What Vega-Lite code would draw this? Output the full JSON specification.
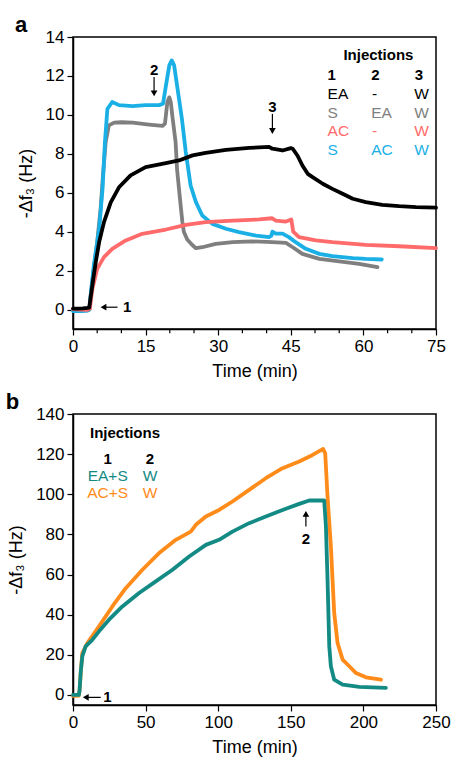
{
  "$schema": "https://vega.github.io/schema/vega-lite/v6.json",
  "padding": {"left": 4, "top": 13, "right": 6, "bottom": 2},
  "spacing": 9,
  "resolve": {"scale": {"color": "independent"}},
  "config": {
    "font": "Liberation Sans",
    "view": {"stroke": "#000", "strokeWidth": 1.5},
    "axis": {
      "labelFont": "Liberation Sans", "labelFontSize": 17, "labelColor": "#000",
      "titleFont": "Liberation Sans", "titleFontSize": 18, "titleFontWeight": "normal", "titleColor": "#000",
      "domainColor": "#000", "domainWidth": 1.5, "tickColor": "#000", "tickWidth": 1.2,
      "grid": false, "labelPadding": 3, "labelFlush": false, "labelOverlap": false
    },
    "title": {"font": "Liberation Sans", "fontSize": 22, "fontWeight": "bold", "anchor": "start", "frame": "bounds", "color": "#000"}
  },
  "datasets": {
    "a": [
      {"t":0,"f":-0.05,"s":"S / EA / W"},{"t":1,"f":-0.05,"s":"S / EA / W"},{"t":2,"f":-0.05,"s":"S / EA / W"},{"t":3,"f":-0.04,"s":"S / EA / W"},{"t":3.4,"f":0,"s":"S / EA / W"},{"t":3.65,"f":0.72,"s":"S / EA / W"},{"t":4.3,"f":2.09,"s":"S / EA / W"},{"t":5.0,"f":3.46,"s":"S / EA / W"},{"t":5.7,"f":5.17,"s":"S / EA / W"},{"t":6.2,"f":6.9,"s":"S / EA / W"},{"t":6.75,"f":8.6,"s":"S / EA / W"},{"t":7.4,"f":9.46,"s":"S / EA / W"},{"t":8.5,"f":9.6,"s":"S / EA / W"},{"t":10,"f":9.62,"s":"S / EA / W"},{"t":12.3,"f":9.6,"s":"S / EA / W"},{"t":15.7,"f":9.5,"s":"S / EA / W"},{"t":18.5,"f":9.43,"s":"S / EA / W"},{"t":19.0,"f":9.55,"s":"S / EA / W"},{"t":19.5,"f":10.66,"s":"S / EA / W"},{"t":19.9,"f":10.9,"s":"S / EA / W"},{"t":20.2,"f":10.66,"s":"S / EA / W"},{"t":20.5,"f":10.0,"s":"S / EA / W"},{"t":21.2,"f":8.6,"s":"S / EA / W"},{"t":21.5,"f":7.2,"s":"S / EA / W"},{"t":21.9,"f":6.2,"s":"S / EA / W"},{"t":22.3,"f":5.2,"s":"S / EA / W"},{"t":22.6,"f":4.5,"s":"S / EA / W"},{"t":22.9,"f":4.0,"s":"S / EA / W"},{"t":23.6,"f":3.6,"s":"S / EA / W"},{"t":24.7,"f":3.3,"s":"S / EA / W"},{"t":25.4,"f":3.15,"s":"S / EA / W"},{"t":26.7,"f":3.2,"s":"S / EA / W"},{"t":29.5,"f":3.37,"s":"S / EA / W"},{"t":33.0,"f":3.46,"s":"S / EA / W"},{"t":37.1,"f":3.5,"s":"S / EA / W"},{"t":41.2,"f":3.46,"s":"S / EA / W"},{"t":44.0,"f":3.42,"s":"S / EA / W"},{"t":45.4,"f":3.2,"s":"S / EA / W"},{"t":47.4,"f":2.86,"s":"S / EA / W"},{"t":50.9,"f":2.6,"s":"S / EA / W"},{"t":55.0,"f":2.47,"s":"S / EA / W"},{"t":59.1,"f":2.35,"s":"S / EA / W"},{"t":62.9,"f":2.18,"s":"S / EA / W"},
      {"t":0,"f":-0.08,"s":"S / AC / W"},{"t":1.5,"f":-0.08,"s":"S / AC / W"},{"t":3,"f":-0.06,"s":"S / AC / W"},{"t":3.4,"f":0,"s":"S / AC / W"},{"t":3.65,"f":0.72,"s":"S / AC / W"},{"t":4.3,"f":2.26,"s":"S / AC / W"},{"t":5.4,"f":4.15,"s":"S / AC / W"},{"t":6.1,"f":6.2,"s":"S / AC / W"},{"t":6.6,"f":8.6,"s":"S / AC / W"},{"t":7.1,"f":10.3,"s":"S / AC / W"},{"t":8.1,"f":10.66,"s":"S / AC / W"},{"t":9.5,"f":10.5,"s":"S / AC / W"},{"t":12.3,"f":10.45,"s":"S / AC / W"},{"t":15,"f":10.5,"s":"S / AC / W"},{"t":17.8,"f":10.5,"s":"S / AC / W"},{"t":18.6,"f":10.57,"s":"S / AC / W"},{"t":19.2,"f":11.5,"s":"S / AC / W"},{"t":19.9,"f":12.54,"s":"S / AC / W"},{"t":20.4,"f":12.8,"s":"S / AC / W"},{"t":20.9,"f":12.54,"s":"S / AC / W"},{"t":21.6,"f":11.34,"s":"S / AC / W"},{"t":22.5,"f":9.8,"s":"S / AC / W"},{"t":23.3,"f":8.09,"s":"S / AC / W"},{"t":24.3,"f":6.37,"s":"S / AC / W"},{"t":25.4,"f":5.52,"s":"S / AC / W"},{"t":26.7,"f":4.83,"s":"S / AC / W"},{"t":28.8,"f":4.4,"s":"S / AC / W"},{"t":31.6,"f":4.15,"s":"S / AC / W"},{"t":34.3,"f":3.98,"s":"S / AC / W"},{"t":37.8,"f":3.8,"s":"S / AC / W"},{"t":40.5,"f":3.72,"s":"S / AC / W"},{"t":41.0,"f":3.8,"s":"S / AC / W"},{"t":41.2,"f":4.0,"s":"S / AC / W"},{"t":41.9,"f":3.9,"s":"S / AC / W"},{"t":43.3,"f":3.9,"s":"S / AC / W"},{"t":44.6,"f":3.72,"s":"S / AC / W"},{"t":46.0,"f":3.46,"s":"S / AC / W"},{"t":48.1,"f":3.12,"s":"S / AC / W"},{"t":50.9,"f":2.86,"s":"S / AC / W"},{"t":53.6,"f":2.74,"s":"S / AC / W"},{"t":57.8,"f":2.64,"s":"S / AC / W"},{"t":60.5,"f":2.6,"s":"S / AC / W"},{"t":63.8,"f":2.57,"s":"S / AC / W"},
      {"t":0,"f":0.02,"s":"AC / - / W"},{"t":1.5,"f":0,"s":"AC / - / W"},{"t":3,"f":-0.02,"s":"AC / - / W"},{"t":3.5,"f":0.05,"s":"AC / - / W"},{"t":3.65,"f":0.38,"s":"AC / - / W"},{"t":4.0,"f":1.06,"s":"AC / - / W"},{"t":5.0,"f":2.09,"s":"AC / - / W"},{"t":6.4,"f":2.69,"s":"AC / - / W"},{"t":8.1,"f":3.12,"s":"AC / - / W"},{"t":10.9,"f":3.55,"s":"AC / - / W"},{"t":14.3,"f":3.89,"s":"AC / - / W"},{"t":19.2,"f":4.11,"s":"AC / - / W"},{"t":23.3,"f":4.35,"s":"AC / - / W"},{"t":27.4,"f":4.49,"s":"AC / - / W"},{"t":33.0,"f":4.57,"s":"AC / - / W"},{"t":38.5,"f":4.63,"s":"AC / - / W"},{"t":41.1,"f":4.69,"s":"AC / - / W"},{"t":41.9,"f":4.57,"s":"AC / - / W"},{"t":44.0,"f":4.52,"s":"AC / - / W"},{"t":45.1,"f":4.63,"s":"AC / - / W"},{"t":45.5,"f":4.0,"s":"AC / - / W"},{"t":46.7,"f":3.72,"s":"AC / - / W"},{"t":50.2,"f":3.55,"s":"AC / - / W"},{"t":53.6,"f":3.46,"s":"AC / - / W"},{"t":60.5,"f":3.32,"s":"AC / - / W"},{"t":67.4,"f":3.25,"s":"AC / - / W"},{"t":75,"f":3.15,"s":"AC / - / W"},
      {"t":0,"f":0.05,"s":"EA / - / W"},{"t":1,"f":0.05,"s":"EA / - / W"},{"t":2,"f":0.06,"s":"EA / - / W"},{"t":3,"f":0.08,"s":"EA / - / W"},{"t":3.35,"f":0.1,"s":"EA / - / W"},{"t":3.65,"f":0.63,"s":"EA / - / W"},{"t":4.2,"f":1.6,"s":"EA / - / W"},{"t":4.7,"f":2.43,"s":"EA / - / W"},{"t":5.4,"f":3.46,"s":"EA / - / W"},{"t":6.4,"f":4.49,"s":"EA / - / W"},{"t":7.8,"f":5.5,"s":"EA / - / W"},{"t":9.5,"f":6.28,"s":"EA / - / W"},{"t":11.9,"f":6.89,"s":"EA / - / W"},{"t":15.0,"f":7.32,"s":"EA / - / W"},{"t":19.2,"f":7.52,"s":"EA / - / W"},{"t":21.9,"f":7.66,"s":"EA / - / W"},{"t":24.7,"f":7.92,"s":"EA / - / W"},{"t":27.4,"f":8.05,"s":"EA / - / W"},{"t":31.6,"f":8.2,"s":"EA / - / W"},{"t":36.4,"f":8.3,"s":"EA / - / W"},{"t":40.5,"f":8.36,"s":"EA / - / W"},{"t":41.2,"f":8.26,"s":"EA / - / W"},{"t":43.3,"f":8.17,"s":"EA / - / W"},{"t":45.0,"f":8.29,"s":"EA / - / W"},{"t":45.4,"f":8.26,"s":"EA / - / W"},{"t":46.4,"f":7.9,"s":"EA / - / W"},{"t":47.4,"f":7.4,"s":"EA / - / W"},{"t":48.5,"f":6.97,"s":"EA / - / W"},{"t":49.5,"f":6.8,"s":"EA / - / W"},{"t":51.6,"f":6.46,"s":"EA / - / W"},{"t":53.6,"f":6.2,"s":"EA / - / W"},{"t":55.7,"f":5.95,"s":"EA / - / W"},{"t":57.8,"f":5.69,"s":"EA / - / W"},{"t":60.5,"f":5.52,"s":"EA / - / W"},{"t":63.9,"f":5.38,"s":"EA / - / W"},{"t":67.4,"f":5.31,"s":"EA / - / W"},{"t":70.9,"f":5.26,"s":"EA / - / W"},{"t":75,"f":5.23,"s":"EA / - / W"}
    ],
    "aMinor": [{"t":5},{"t":10},{"t":20},{"t":25},{"t":35},{"t":40},{"t":50},{"t":55},{"t":65},{"t":70}],
    "aTitle": [{"x":63.1,"y":13.06,"label":"Injections"}],
    "aHead": [
      {"x":52.6,"y":12.03,"label":"1"},{"x":61.6,"y":12.03,"label":"2"},{"x":70.6,"y":12.03,"label":"3"}
    ],
    "aLeg": [
      {"x":52.6,"y":11.09,"label":"EA","s":"EA / - / W"},{"x":61.8,"y":11.09,"label":"-","s":"EA / - / W"},{"x":70.5,"y":11.09,"label":"W","s":"EA / - / W"},
      {"x":52.6,"y":10.11,"label":"S","s":"S / EA / W"},{"x":61.6,"y":10.11,"label":"EA","s":"S / EA / W"},{"x":70.5,"y":10.11,"label":"W","s":"S / EA / W"},
      {"x":52.6,"y":9.15,"label":"AC","s":"AC / - / W"},{"x":61.8,"y":9.15,"label":"-","s":"AC / - / W"},{"x":70.5,"y":9.15,"label":"W","s":"AC / - / W"},
      {"x":52.6,"y":8.17,"label":"S","s":"S / AC / W"},{"x":61.6,"y":8.17,"label":"AC","s":"S / AC / W"},{"x":70.5,"y":8.17,"label":"W","s":"S / AC / W"}
    ],
    "aRule": [
      {"x":9.2,"y":0.12,"x2":6.2,"y2":0.12},
      {"x":16.75,"y":11.95,"x2":16.75,"y2":11.1},
      {"x":41.2,"y":10.05,"x2":41.2,"y2":9.1}
    ],
    "aHeadL": [{"x":6.3,"y":0.12}],
    "aHeadD": [{"x":16.75,"y":11.1},{"x":41.2,"y":9.17}],
    "aNum": [{"x":11.2,"y":0.12,"label":"1"},{"x":16.75,"y":12.3,"label":"2"},{"x":41.2,"y":10.4,"label":"3"}],
    "b": [
      {"t":0,"f":-0.5,"s":"AC+S"},{"t":2,"f":-0.5,"s":"AC+S"},{"t":4,"f":-0.3,"s":"AC+S"},{"t":4.6,"f":3,"s":"AC+S"},{"t":5.3,"f":11,"s":"AC+S"},{"t":6.4,"f":20.9,"s":"AC+S"},{"t":9.9,"f":25.9,"s":"AC+S"},{"t":17.9,"f":34.2,"s":"AC+S"},{"t":27.1,"f":44.1,"s":"AC+S"},{"t":36.3,"f":53.2,"s":"AC+S"},{"t":47.8,"f":62.4,"s":"AC+S"},{"t":59.3,"f":70.7,"s":"AC+S"},{"t":70.8,"f":77.3,"s":"AC+S"},{"t":81.1,"f":81.4,"s":"AC+S"},{"t":84.6,"f":84.8,"s":"AC+S"},{"t":91.5,"f":88.9,"s":"AC+S"},{"t":100.6,"f":92.2,"s":"AC+S"},{"t":109.8,"f":96.4,"s":"AC+S"},{"t":121.3,"f":102.2,"s":"AC+S"},{"t":132.8,"f":108.0,"s":"AC+S"},{"t":144.3,"f":113.0,"s":"AC+S"},{"t":155.8,"f":116.3,"s":"AC+S"},{"t":165.0,"f":119.6,"s":"AC+S"},{"t":172.3,"f":122.6,"s":"AC+S"},{"t":173.7,"f":120.4,"s":"AC+S"},{"t":175.3,"f":98.9,"s":"AC+S"},{"t":177.6,"f":74.0,"s":"AC+S"},{"t":179.9,"f":40.8,"s":"AC+S"},{"t":182.2,"f":25.9,"s":"AC+S"},{"t":185.7,"f":17.6,"s":"AC+S"},{"t":190.3,"f":14.3,"s":"AC+S"},{"t":194.9,"f":10.9,"s":"AC+S"},{"t":201.7,"f":8.8,"s":"AC+S"},{"t":212.1,"f":7.6,"s":"AC+S"},
      {"t":0,"f":0,"s":"EA+S"},{"t":2,"f":0,"s":"EA+S"},{"t":4,"f":0,"s":"EA+S"},{"t":4.5,"f":2,"s":"EA+S"},{"t":5.3,"f":11,"s":"EA+S"},{"t":6.4,"f":19.2,"s":"EA+S"},{"t":8.7,"f":24.2,"s":"EA+S"},{"t":13.3,"f":27.5,"s":"EA+S"},{"t":17.9,"f":31.7,"s":"EA+S"},{"t":24.8,"f":37.5,"s":"EA+S"},{"t":34.0,"f":44.1,"s":"EA+S"},{"t":45.5,"f":50.8,"s":"EA+S"},{"t":57.0,"f":56.6,"s":"EA+S"},{"t":68.5,"f":62.4,"s":"EA+S"},{"t":80.0,"f":69.0,"s":"EA+S"},{"t":91.5,"f":74.8,"s":"EA+S"},{"t":100.6,"f":77.3,"s":"EA+S"},{"t":109.8,"f":81.4,"s":"EA+S"},{"t":121.3,"f":85.6,"s":"EA+S"},{"t":132.8,"f":88.9,"s":"EA+S"},{"t":144.3,"f":92.2,"s":"EA+S"},{"t":155.8,"f":95.2,"s":"EA+S"},{"t":162.7,"f":96.9,"s":"EA+S"},{"t":173.0,"f":96.9,"s":"EA+S"},{"t":174.2,"f":83.9,"s":"EA+S"},{"t":175.3,"f":57.4,"s":"EA+S"},{"t":176.5,"f":24.2,"s":"EA+S"},{"t":177.6,"f":14.3,"s":"EA+S"},{"t":179.9,"f":7.6,"s":"EA+S"},{"t":185.7,"f":5.1,"s":"EA+S"},{"t":197.2,"f":4.0,"s":"EA+S"},{"t":215.5,"f":3.5,"s":"EA+S"}
    ],
    "bHead": [
      {"x":35.8,"y":130.4,"label":"Injections"},
      {"x":23.9,"y":117.4,"label":"1"},{"x":53.0,"y":117.4,"label":"2"}
    ],
    "bLeg": [
      {"x":23.9,"y":109.1,"label":"EA+S","s":"EA+S"},{"x":53.0,"y":109.1,"label":"W","s":"EA+S"},
      {"x":23.9,"y":100.5,"label":"AC+S","s":"AC+S"},{"x":53.0,"y":100.5,"label":"W","s":"AC+S"}
    ],
    "bRule": [
      {"x":19.1,"y":-1.2,"x2":8.5,"y2":-1.2},
      {"x":160.4,"y":83.9,"x2":160.4,"y2":90.0}
    ],
    "bHeadL": [{"x":8.8,"y":-1.2}],
    "bHeadU": [{"x":160.4,"y":90.2}],
    "bNum": [{"x":23.7,"y":-1.2,"label":"1"},{"x":160.4,"y":77.6,"label":"2"}]
  },
  "vconcat": [
    {
      "width": 363, "height": 292,
      "title": {"text": "a", "dx": -2, "dy": 9, "offset": 0},
      "encoding": {
        "x": {"type": "quantitative", "scale": {"domain": [0, 75], "nice": false, "zero": false}},
        "y": {"type": "quantitative", "scale": {"domain": [-1, 14], "nice": false, "zero": false}}
      },
      "layer": [
        {
          "data": {"name": "a"},
          "mark": {"type": "line", "strokeWidth": 3.8, "strokeJoin": "round", "strokeCap": "round"},
          "encoding": {
            "x": {"field": "t", "type": "quantitative", "title": "Time (min)",
              "axis": {"values": [0,15,30,45,60,75], "tickSize": 6, "titlePadding": 8}},
            "y": {"field": "f", "type": "quantitative", "title": "-Δf₃ (Hz)",
              "axis": {"values": [0,1,2,3,4,5,6,7,8,9,10,11,12,13,14],
                "labelExpr": "datum.value % 2 === 0 ? datum.label : ''",
                "tickSize": {"condition": {"test": "datum.value % 2 === 0", "value": 6}, "value": 3.5},
                "titlePadding": 10}},
            "color": {"field": "s", "type": "nominal", "legend": null,
              "scale": {"domain": ["EA / - / W", "S / EA / W", "AC / - / W", "S / AC / W"],
                "range": ["#000000", "#7f7f7f", "#ff6b6b", "#1ab0e6"]}},
            "order": {"field": "t", "type": "quantitative"}
          }
        },
        {
          "data": {"name": "aMinor"},
          "mark": {"type": "tick", "orient": "vertical", "size": 3.5, "thickness": 1.2, "color": "#000", "opacity": 1, "yOffset": 2.5},
          "encoding": {"x": {"field": "t", "type": "quantitative"}, "y": {"datum": -1, "type": "quantitative"}}
        },
        {
          "data": {"name": "aTitle"},
          "mark": {"type": "text", "fontWeight": "bold", "fontSize": 15, "align": "center", "baseline": "middle", "color": "#000"},
          "encoding": {"x": {"field": "x", "type": "quantitative"}, "y": {"field": "y", "type": "quantitative"}, "text": {"field": "label"}}
        },
        {
          "data": {"name": "aHead"},
          "mark": {"type": "text", "fontWeight": "bold", "fontSize": 15, "align": "left", "baseline": "middle", "color": "#000"},
          "encoding": {"x": {"field": "x", "type": "quantitative"}, "y": {"field": "y", "type": "quantitative"}, "text": {"field": "label"}}
        },
        {
          "data": {"name": "aLeg"},
          "mark": {"type": "text", "fontSize": 15.5, "align": "left", "baseline": "middle"},
          "encoding": {
            "x": {"field": "x", "type": "quantitative"},
            "y": {"field": "y", "type": "quantitative"},
            "text": {"field": "label"},
            "color": {"field": "s", "type": "nominal", "legend": null}
          }
        },
        {
          "data": {"name": "aRule"},
          "mark": {"type": "rule", "color": "#000", "strokeWidth": 1.2},
          "encoding": {
            "x": {"field": "x", "type": "quantitative"},
            "y": {"field": "y", "type": "quantitative"},
            "x2": {"field": "x2"},
            "y2": {"field": "y2"}
          }
        },
        {
          "data": {"name": "aHeadL"},
          "mark": {"type": "point", "shape": "triangle-left", "filled": true, "color": "#000", "size": 45, "opacity": 1},
          "encoding": {"x": {"field": "x", "type": "quantitative"}, "y": {"field": "y", "type": "quantitative"}}
        },
        {
          "data": {"name": "aHeadD"},
          "mark": {"type": "point", "shape": "triangle-down", "filled": true, "color": "#000", "size": 45, "opacity": 1},
          "encoding": {"x": {"field": "x", "type": "quantitative"}, "y": {"field": "y", "type": "quantitative"}}
        },
        {
          "data": {"name": "aNum"},
          "mark": {"type": "text", "fontWeight": "bold", "fontSize": 15, "align": "center", "baseline": "middle", "color": "#000"},
          "encoding": {"x": {"field": "x", "type": "quantitative"}, "y": {"field": "y", "type": "quantitative"}, "text": {"field": "label"}}
        }
      ]
    },
    {
      "width": 363, "height": 291,
      "title": {"text": "b", "dx": -2, "dy": 9, "offset": 0},
      "encoding": {
        "x": {"type": "quantitative", "scale": {"domain": [0, 250], "nice": false, "zero": false}},
        "y": {"type": "quantitative", "scale": {"domain": [-5, 140], "nice": false, "zero": false}}
      },
      "layer": [
        {
          "data": {"name": "b"},
          "mark": {"type": "line", "strokeWidth": 3.8, "strokeJoin": "round", "strokeCap": "round"},
          "encoding": {
            "x": {"field": "t", "type": "quantitative", "title": "Time (min)",
              "axis": {"values": [0,25,50,75,100,125,150,175,200,225,250],
                "labelExpr": "datum.value % 50 === 0 ? datum.label : ''",
                "tickSize": {"condition": {"test": "datum.value % 50 === 0", "value": 6}, "value": 3.5},
                "titlePadding": 8}},
            "y": {"field": "f", "type": "quantitative", "title": "-Δf₃ (Hz)",
              "axis": {"values": [0,10,20,30,40,50,60,70,80,90,100,110,120,130,140],
                "labelExpr": "datum.value % 20 === 0 ? datum.label : ''",
                "tickSize": {"condition": {"test": "datum.value % 20 === 0", "value": 6}, "value": 3.5},
                "titlePadding": 10}},
            "color": {"field": "s", "type": "nominal", "legend": null,
              "scale": {"domain": ["EA+S", "AC+S"], "range": ["#138a84", "#ff8c1a"]}},
            "order": {"field": "t", "type": "quantitative"}
          }
        },
        {
          "data": {"name": "bHead"},
          "mark": {"type": "text", "fontWeight": "bold", "fontSize": 15, "align": "center", "baseline": "middle", "color": "#000"},
          "encoding": {"x": {"field": "x", "type": "quantitative"}, "y": {"field": "y", "type": "quantitative"}, "text": {"field": "label"}}
        },
        {
          "data": {"name": "bLeg"},
          "mark": {"type": "text", "fontSize": 15.5, "align": "center", "baseline": "middle"},
          "encoding": {
            "x": {"field": "x", "type": "quantitative"},
            "y": {"field": "y", "type": "quantitative"},
            "text": {"field": "label"},
            "color": {"field": "s", "type": "nominal", "legend": null}
          }
        },
        {
          "data": {"name": "bRule"},
          "mark": {"type": "rule", "color": "#000", "strokeWidth": 1.2},
          "encoding": {
            "x": {"field": "x", "type": "quantitative"},
            "y": {"field": "y", "type": "quantitative"},
            "x2": {"field": "x2"},
            "y2": {"field": "y2"}
          }
        },
        {
          "data": {"name": "bHeadL"},
          "mark": {"type": "point", "shape": "triangle-left", "filled": true, "color": "#000", "size": 45, "opacity": 1},
          "encoding": {"x": {"field": "x", "type": "quantitative"}, "y": {"field": "y", "type": "quantitative"}}
        },
        {
          "data": {"name": "bHeadU"},
          "mark": {"type": "point", "shape": "triangle-up", "filled": true, "color": "#000", "size": 45, "opacity": 1},
          "encoding": {"x": {"field": "x", "type": "quantitative"}, "y": {"field": "y", "type": "quantitative"}}
        },
        {
          "data": {"name": "bNum"},
          "mark": {"type": "text", "fontWeight": "bold", "fontSize": 15, "align": "center", "baseline": "middle", "color": "#000"},
          "encoding": {"x": {"field": "x", "type": "quantitative"}, "y": {"field": "y", "type": "quantitative"}, "text": {"field": "label"}}
        }
      ]
    }
  ]
}
